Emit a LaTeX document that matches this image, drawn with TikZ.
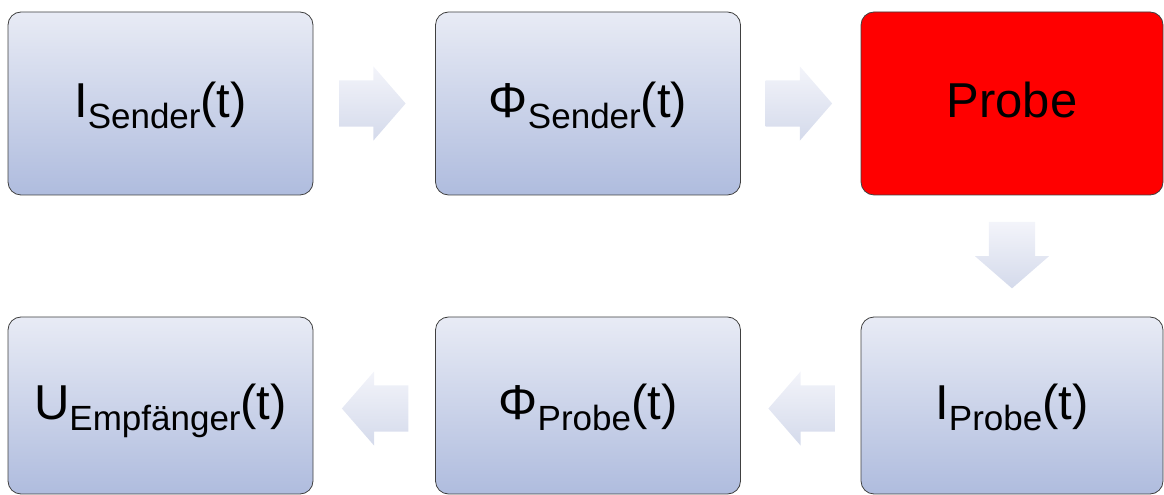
\documentclass[tikz,border=0pt]{standalone}
\usepackage{fontspec}
\setmainfont{Liberation Sans}
\usepackage{tikz}
\usetikzlibrary{positioning,calc,shapes.arrows}
\usepackage{xcolor}

\definecolor{boxtop}{HTML}{E8EBF5}
\definecolor{boxbottom}{HTML}{AFBCDE}
\definecolor{arrtop}{HTML}{F3F4FA}
\definecolor{arrbottom}{HTML}{D4DAEB}

\newcommand{\subtxt}[1]{\raisebox{-11pt}{\fontsize{35pt}{35pt}\selectfont #1}}

\begin{document}
\begin{tikzpicture}[
  x=1pt, y=1pt,
  stage/.style={
    rectangle, draw=black!75, line width=0.8pt, rounded corners=13pt,
    minimum width=305pt, minimum height=183pt,
    top color=boxtop, bottom color=boxbottom,
    font=\fontsize{49pt}{55pt}\selectfont,
    text height=36pt, text depth=7pt, inner sep=0pt
  },
  lowstage/.style={stage, minimum height=177pt},
  flow/.style={
    shape=single arrow, draw=none, inner sep=23pt,
    minimum height=65pt, minimum width=74pt,
    single arrow head extend=14pt, single arrow tip angle=98,
    top color=arrtop, bottom color=arrbottom
  }
]
\useasboundingbox (0,0) rectangle (1164,495);

% Top row
\node[stage] (isend) at (160.5,391.5) {I\subtxt{Sender}(t)};
\node[stage] (phisend) at (588,391.5) {Φ\subtxt{Sender}(t)};
\node[stage, minimum width=302pt, top color=red, bottom color=red] (probe)
  at (1012,391.5) {Probe};

% Bottom row
\node[lowstage] (uempf) at (160.5,89.5) {U\subtxt{Empfänger}(t)};
\node[lowstage] (phiprobe) at (588,89.5) {Φ\subtxt{Probe}(t)};
\node[lowstage, minimum width=302pt] (iprobe) at (1012,89.5)
  {I\subtxt{Probe}(t)};

% Block arrows
\node[flow, xshift=-12pt] (f1) at ($(isend.east)!0.5!(phisend.west)$) {};
\node[flow, xshift=-12pt] (f2) at ($(phisend.east)!0.5!(probe.west)$) {};
\node[flow, shape border rotate=270, yshift=11pt] (f3)
  at ($(probe.south)!0.5!(iprobe.north)$) {};
\node[flow, shape border rotate=180, xshift=11pt, yshift=-3pt] (f4)
  at ($(iprobe.west)!0.5!(phiprobe.east)$) {};
\node[flow, shape border rotate=180, xshift=11pt, yshift=-3pt] (f5)
  at ($(phiprobe.west)!0.5!(uempf.east)$) {};

\end{tikzpicture}
\end{document}
